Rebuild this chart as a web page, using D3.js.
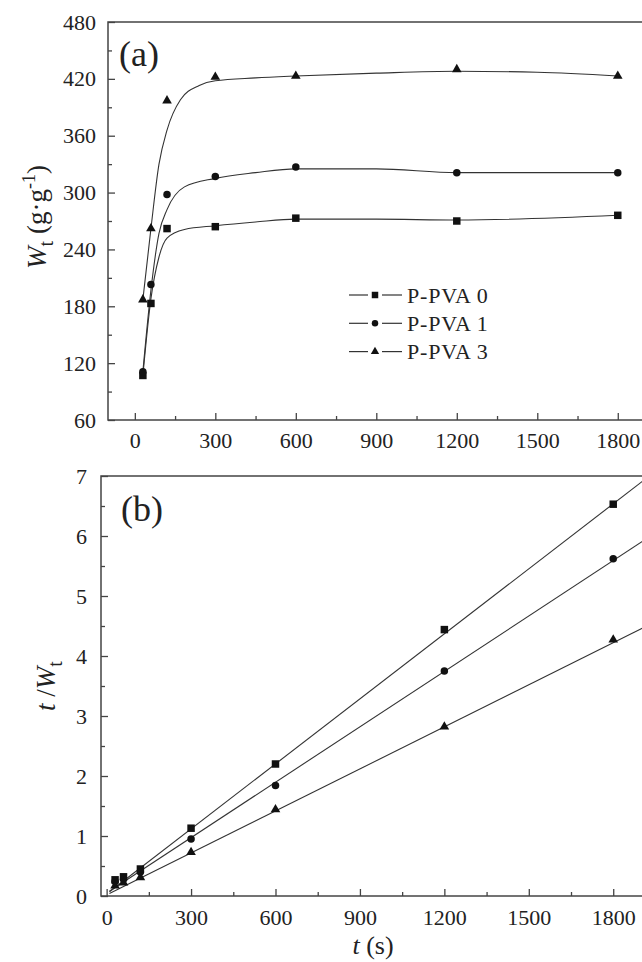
<!DOCTYPE html>
<html>
<head>
<meta charset="utf-8">
<script src="https://cdn.jsdelivr.net/npm/d3@7"></script>
<style>
  body { margin: 0; background: #fff; }
</style>
</head>
<body>
<svg width="642" height="962"></svg>
<script>
const times = [30, 60, 120, 300, 600, 1200, 1800];
const seriesNames = ["P-PVA 0", "P-PVA 1", "P-PVA 3"];

// (a) W_t (g/g)
const wt0 = [107, 183, 262, 264, 273, 270, 276];
const wt1 = [111, 203, 298, 317, 327, 321, 321];
const wt3 = [187, 262, 397, 422, 423, 430, 423];

// (a) fitted curves, [t, Wt]
const fitA0 = [[30, 107], [60, 188], [90, 232], [120, 252], [185, 261], [300, 265], [450, 269], [600, 272], [900, 272], [1200, 271], [1800, 276]];
const fitA1 = [[30, 111], [60, 197], [90, 257], [120, 282], [185, 306], [300, 315], [450, 321], [600, 325], [900, 325], [1200, 321], [1800, 321]];
const fitA3 = [[30, 187], [60, 262], [90, 330], [120, 366], [170, 398], [240, 413], [300, 418], [450, 421], [600, 423], [900, 426], [1200, 428], [1500, 427], [1800, 423]];

// (b) t / W_t
const tw0 = [0.27, 0.32, 0.45, 1.13, 2.20, 4.44, 6.53];
const tw1 = [0.24, 0.28, 0.40, 0.95, 1.84, 3.75, 5.62];
const tw3 = [0.17, 0.22, 0.31, 0.73, 1.44, 2.82, 4.27];

// (b) linear fits, end points [t, t/Wt]
const fitB0 = [[10, 0.07], [1920, 6.97]];
const fitB1 = [[10, 0.08], [1920, 5.96]];
const fitB3 = [[10, 0.04], [1920, 4.50]];

const xTicks = [0, 300, 600, 900, 1200, 1500, 1800];
const xMinor = [150, 450, 750, 1050, 1350, 1650];
const yTicksA = [60, 120, 180, 240, 300, 360, 420, 480];
const yMinorA = [90, 150, 210, 270, 330, 390, 450];
const yTicksB = [0, 1, 2, 3, 4, 5, 6, 7];
const yMinorB = [0.5, 1.5, 2.5, 3.5, 4.5, 5.5, 6.5];

const symbols = [d3.symbolSquare, d3.symbolCircle, d3.symbolTriangle];
const symSizes = [56, 44, 40];
const ink = "#222";
const serif = "'Liberation Serif', 'Times New Roman', Times, serif";

const svg = d3.select("svg").style("font-family", serif);

function panel(id, xs, ys, yTicks, yMinor, yPad, xPad) {
  const g = svg.append("g");
  const [x0, x1] = xs.range(), [y0, y1] = ys.range();

  g.append("clipPath").attr("id", id)
    .append("rect").attr("x", x0).attr("y", y1).attr("width", x1 - x0).attr("height", y0 - y1);

  // frame
  g.append("rect")
    .attr("x", x0).attr("y", y1).attr("width", x1 - x0).attr("height", y0 - y1)
    .attr("fill", "none").attr("stroke", "#444").attr("stroke-width", 1.5);

  g.append("g").attr("transform", `translate(0,${y0})`)
    .call(d3.axisBottom(xs).tickValues(xTicks).tickFormat(d3.format("d"))
      .tickSize(-7).tickSizeOuter(0).tickPadding(xPad));
  g.append("g").attr("transform", `translate(0,${y0})`)
    .call(d3.axisBottom(xs).tickValues(xMinor).tickSize(-4).tickFormat(""));
  g.append("g").attr("transform", `translate(${x0},0)`)
    .call(d3.axisLeft(ys).tickValues(yTicks).tickFormat(d3.format("d"))
      .tickSize(-7).tickSizeOuter(0).tickPadding(yPad));
  g.append("g").attr("transform", `translate(${x0},0)`)
    .call(d3.axisLeft(ys).tickValues(yMinor).tickSize(-4).tickFormat(""));

  g.selectAll(".domain").remove();
  g.selectAll(".tick line").attr("stroke", "#444").attr("stroke-width", 1.3);
  g.selectAll(".tick text")
    .style("font-family", serif).style("font-size", "22px").attr("fill", ink);
  return g;
}

function drawMarkers(g, xs, ys, vals, i) {
  g.selectAll(null)
    .data(times.map((t, k) => [t, vals[k]]))
    .enter()
    .append("path")
    .attr("d", d3.symbol().type(symbols[i]).size(symSizes[i]))
    .attr("transform", d => `translate(${xs(d[0])},${ys(d[1])})`)
    .attr("fill", "#111");
}

function label(g) {
  return g.append("text").style("font-family", serif).attr("fill", ink);
}

// ---------- panel (a)
const xA = d3.scaleLinear().domain([-100, 1900]).range([108, 644.6]);
const yA = d3.scaleLinear().domain([60, 480]).range([420, 22]);
const gA = panel("clipA", xA, yA, yTicksA, yMinorA, 12, 12);

const lineA = d3.line().x(d => xA(d[0])).y(d => yA(d[1])).curve(d3.curveMonotoneX);
[fitA0, fitA1, fitA3].forEach(f => {
  gA.append("path").attr("d", lineA(f)).attr("fill", "none")
    .attr("stroke", "#333").attr("stroke-width", 1.1).attr("clip-path", "url(#clipA)");
});
[wt0, wt1, wt3].forEach((v, i) => drawMarkers(gA, xA, yA, v, i));

label(gA).attr("x", 119).attr("y", 66).style("font-size", "36px").text("(a)");

const labA = label(gA)
  .attr("transform", "translate(46,217) rotate(-90)")
  .attr("text-anchor", "middle").style("font-size", "27px");
labA.append("tspan").attr("font-style", "italic").text("W");
labA.append("tspan").style("font-size", "20px").attr("dy", 7).text("t");
labA.append("tspan").attr("dy", -7).text(" (g·g");
labA.append("tspan").style("font-size", "18px").attr("dy", -11).text("-1");
labA.append("tspan").attr("dy", 11).text(")");

// legend
const legend = gA.append("g");
seriesNames.forEach((name, i) => {
  const y = 295 + i * 28.3;
  legend.append("line").attr("x1", 349).attr("x2", 368).attr("y1", y).attr("y2", y)
    .attr("stroke", "#333").attr("stroke-width", 1.2);
  legend.append("line").attr("x1", 382).attr("x2", 402).attr("y1", y).attr("y2", y)
    .attr("stroke", "#333").attr("stroke-width", 1.2);
  legend.append("path")
    .attr("d", d3.symbol().type(symbols[i]).size(symSizes[i] * 0.75))
    .attr("transform", `translate(375,${y})`).attr("fill", "#111");
  label(legend).attr("x", 407).attr("y", y).attr("dy", "0.35em")
    .style("font-size", "22px").attr("letter-spacing", 0.8).text(name);
});

// ---------- panel (b)
const xB = d3.scaleLinear().domain([-20, 1920]).range([101, 647]);
const yB = d3.scaleLinear().domain([0, 7]).range([896, 476]);
const gB = panel("clipB", xB, yB, yTicksB, yMinorB, 14, 13);

const lineB = d3.line().x(d => xB(d[0])).y(d => yB(d[1]));
[fitB0, fitB1, fitB3].forEach(f => {
  gB.append("path").attr("d", lineB(f)).attr("fill", "none")
    .attr("stroke", "#333").attr("stroke-width", 1.1).attr("clip-path", "url(#clipB)");
});
[tw0, tw1, tw3].forEach((v, i) => drawMarkers(gB, xB, yB, v, i));

label(gB).attr("x", 121).attr("y", 521).style("font-size", "36px").text("(b)");

const labB = label(gB)
  .attr("transform", `translate(55,${(476 + 896) / 2}) rotate(-90)`)
  .attr("text-anchor", "middle").style("font-size", "27px");
labB.append("tspan").attr("font-style", "italic").text("t");
labB.append("tspan").text(" /");
labB.append("tspan").attr("font-style", "italic").text("W");
labB.append("tspan").style("font-size", "20px").attr("dy", 7).text("t");

const labX = label(gB)
  .attr("x", 373).attr("y", 954)
  .attr("text-anchor", "middle").style("font-size", "26px");
labX.append("tspan").attr("font-style", "italic").text("t");
labX.append("tspan").text(" (s)");
</script>
</body>
</html>
